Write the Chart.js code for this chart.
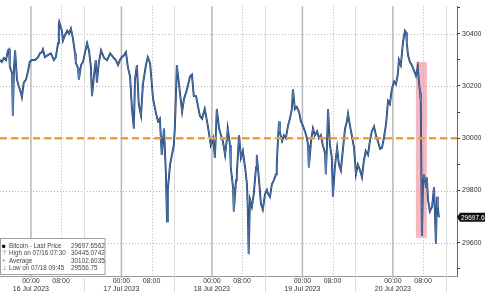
<!DOCTYPE html>
<html>
<head>
<meta charset="utf-8">
<script src="https://cdn.jsdelivr.net/npm/chart.js@4.4.1/dist/chart.umd.min.js"></script>
<style>
  html, body { margin: 0; padding: 0; background: #fff; }
  #wrap { width: 485px; height: 292px; position: relative; }
</style>
</head>
<body>
<div id="wrap"><canvas id="btcChart"></canvas></div>
<script>
// Hours since 16 Jul 2023 00:00
const hours = [
  -8.2, -7.7, -7.2, -6.6, -6.1, -5.8, -5.6, -5.0, -4.8, -4.5, -4.2, -3.7, -3.2, -2.7, -2.4, -1.9, -1.3, -0.8, -0.3,
  0.3, 1.1, 1.9, 2.4, 2.9, 3.2, 3.7, 4.5, 5.3, 6.1, 6.6, 7.2, 7.4, 7.5, 8.2, 8.5, 9.0, 9.6, 10.1, 10.6, 11.1, 11.7,
  11.9, 12.5, 12.7, 13.3, 13.8, 14.3, 14.9, 15.4, 15.9, 16.2, 16.7, 17.2, 17.5, 18.0, 18.6, 19.4, 20.2, 21.0, 21.8,
  22.5, 23.1, 23.6, 24.1, 24.7, 25.2, 25.7, 26.3, 26.8, 27.3, 27.6, 28.1, 28.6, 29.2, 29.7, 30.5, 31.0, 31.6, 32.4,
  33.2, 33.7, 34.2, 34.7, 35.3, 35.8, 36.1, 36.3, 36.9, 37.4, 37.9, 38.2, 38.7, 39.5, 40.1, 40.6, 41.4, 42.2, 42.7,
  43.2, 43.8, 44.3, 44.8, 45.4, 46.1, 46.9, 47.7, 48.3, 48.8, 49.3, 49.9, 50.4, 50.9, 51.5, 52.0, 52.2, 52.8, 53.0,
  53.6, 53.8, 54.4, 54.6, 55.2, 55.7, 56.2, 56.8, 57.3, 57.5, 57.75, 58.1, 58.6, 59.1, 59.7, 59.9, 60.5, 61.0, 61.5,
  62.1, 62.6, 62.9, 63.4, 63.9, 64.4, 65.0, 65.2, 65.5, 65.8, 66.0, 66.6, 67.1, 67.6, 68.2, 68.7, 69.2, 69.5, 70.0,
  70.5, 71.1, 71.6, 72.1, 72.7, 73.2, 73.5, 73.7, 74.3, 74.8, 75.3, 75.9, 76.4, 76.9, 77.4, 78.0, 78.2, 78.5, 78.8,
  79.3, 79.8, 80.1, 80.6, 81.2, 81.7, 82.2, 82.7, 83.3, 83.8, 84.1, 84.6, 85.1, 85.7, 86.2, 86.7, 87.3, 87.8, 88.3,
  88.8, 89.4, 89.9, 90.4, 91.0, 91.5, 92.0, 92.6, 93.1, 93.6, 94.2, 94.7, 95.2, 95.7, 96.3, 96.8, 97.3, 97.6, 98.1,
  98.7, 99.2, 99.5, 99.7, 100.0, 100.5, 101.0, 101.6, 102.1, 102.6, 102.9, 103.2, 103.4, 103.7, 104.0, 104.2, 104.8,
  105.0, 105.3, 105.8, 106.4, 106.9, 107.1, 107.4, 107.7, 107.9, 108.2
];
const prices = [
  30299, 30292, 30307, 30299, 30336, 30340, 30273, 30250, 30086, 30262, 30336, 30224, 30198, 30176, 30157, 30213, 30224, 30254, 30292,
  30299, 30299, 30310, 30325, 30329, 30340, 30310, 30318, 30325, 30299, 30310, 30363, 30437, 30445.07, 30411, 30374, 30393, 30411, 30400, 30419, 30385, 30325,
  30288, 30269, 30224, 30280, 30292, 30325, 30363, 30336, 30273, 30161, 30236, 30299, 30213, 30288, 30336, 30307, 30299, 30325, 30310,
  30299, 30280, 30299, 30310, 30318, 30329, 30273, 30236, 30112, 30037, 30224, 30280, 30131, 30086, 30206, 30280, 30310, 30288, 30150,
  30093, 30064, 30075, 29936, 30037, 29862, 29682, 29802, 29899, 29936, 29974, 30049, 30280, 30176, 30101, 30150, 30187, 30236, 30243,
  30161, 30161, 30123, 30086, 30075, 30112, 30049, 29974, 30000, 29925, 30112, 30037, 30011, 29989, 29936, 30000, 30037, 29974, 29888,
  29813, 29720, 29839, 29862, 30011, 29925, 29951, 29888, 29824, 29738, 29556.75, 29765, 29738, 29787, 29888, 29936, 29839, 29750, 29727,
  29787, 29802, 29787, 29776, 29824, 29839, 29862, 29899, 29989, 30064, 30026, 29989, 30011, 30000, 30049, 30075, 30112, 30187, 30112,
  30120, 30101, 30064, 30049, 30026, 30000, 29974, 29888, 29989, 30037, 30011, 30026, 30000, 30011, 29974, 29944, 29862, 29963, 30112,
  29974, 29925, 29776, 29888, 29963, 29899, 29877, 29951, 30037, 30064, 30093, 30049, 30011, 29963, 29862, 29899, 29877, 29851, 29914,
  29951, 29936, 29989, 30026, 30045, 30011, 29989, 29959, 29963, 30000, 30056, 30142, 30131, 30187, 30217, 30206, 30243, 30299, 30280,
  30370, 30411, 30404, 30363, 30318, 30292, 30280, 30258, 30239, 30273, 30217, 30176, 30138, 29626, 29839, 29862, 29813,
  29851, 29765, 29720, 29738, 29813, 29738, 29596, 29776, 29738, 29697.6562
];

const yTickValues = [29500, 29600, 29700, 29800, 29900, 30000, 30100, 30200, 30300, 30400, 30500];
const yGridValues = [29600, 29800, 30000, 30200, 30400];
const xTickHours = [0, 8, 24, 32, 48, 56, 72, 80, 96, 104];
const midnightHours = [0, 24, 48, 72, 96];
const morningHours = [8, 32, 56, 80, 104];
const separatorHours = [14, 38, 62, 86, 110];
const dayLabels = ['16 Jul 2023', '17 Jul 2023', '18 Jul 2023', '19 Jul 2023', '20 Jul 2023'];
const refLevel = 30000;
const boxHours = [102.1, 105.0];
const boxPrices = [29619, 30292];
const xMin = -8.2, xMax = 113;
const yMin = 29473, yMax = 30505;

const legendRows = [
  ['\u25A0', 'Bitcoin - Last Price', '29697.6562'],
  ['\u22A4', 'High on 07/16 07:30', '30445.0742'],
  ['+', 'Average', '30102.6035'],
  ['\u22A5', 'Low on 07/18 09:45', '29556.75']
];

const FONT = '"Liberation Sans", Arial, sans-serif';

// gridlines + highlighted drop window, behind the series
const backdrop = {
  id: 'backdrop',
  beforeDatasetsDraw(chart) {
    const { ctx, chartArea: a, scales: { x, y } } = chart;
    ctx.save();
    // pink highlight
    const bx0 = x.getPixelForValue(boxHours[0]), bx1 = x.getPixelForValue(boxHours[1]);
    const by0 = y.getPixelForValue(boxPrices[1]), by1 = y.getPixelForValue(boxPrices[0]);
    ctx.fillStyle = 'rgba(241, 160, 170, 0.75)';
    ctx.fillRect(bx0, by0, bx1 - bx0, by1 - by0);

    ctx.lineWidth = 1;
    // horizontal dotted
    ctx.strokeStyle = '#b4b4b4';
    ctx.setLineDash([1, 2]);
    yGridValues.forEach(v => {
      const py = Math.round(y.getPixelForValue(v)) + 0.5;
      ctx.beginPath(); ctx.moveTo(a.left, py); ctx.lineTo(a.right, py); ctx.stroke();
    });
    // 08:00 dotted
    morningHours.forEach(h => {
      const px = Math.round(x.getPixelForValue(h)) + 0.5;
      ctx.beginPath(); ctx.moveTo(px, a.top); ctx.lineTo(px, a.bottom); ctx.stroke();
    });
    ctx.setLineDash([]);
    // day separators, light solid, running into the label band
    ctx.strokeStyle = '#dcdcdc';
    separatorHours.forEach(h => {
      const px = Math.round(x.getPixelForValue(h)) + 0.5;
      if (px > a.right) return;
      ctx.beginPath(); ctx.moveTo(px, a.top); ctx.lineTo(px, chart.height); ctx.stroke();
    });
    // midnight lines
    ctx.strokeStyle = '#b8b8b8';
    ctx.lineWidth = 1.5;
    midnightHours.forEach(h => {
      const px = x.getPixelForValue(h);
      ctx.beginPath(); ctx.moveTo(px, a.top); ctx.lineTo(px, a.bottom + 2); ctx.stroke();
    });
    ctx.restore();
  }
};

// legend box + last price tag
const overlay = {
  id: 'overlay',
  afterDraw(chart) {
    const { ctx, chartArea: a, scales: { y } } = chart;
    ctx.save();
    // legend box
    ctx.fillStyle = '#fff';
    ctx.fillRect(0, 238, 105, 36);
    ctx.strokeStyle = '#a0a0a0';
    ctx.lineWidth = 1;
    ctx.strokeRect(0.5, 238.5, 104.5, 36);
    ctx.textBaseline = 'middle';
    legendRows.forEach((r, i) => {
      const ly = 246 + i * 7.4;
      ctx.font = '6.3px ' + FONT;
      ctx.fillStyle = i === 0 ? '#000' : '#777';
      ctx.fillText(r[0], 2, ly);
      ctx.fillStyle = '#444';
      ctx.fillText(r[1], 9, ly);
      ctx.font = '6.4px ' + FONT;
      ctx.fillText(r[2], 71, ly);
    });
    // last price tag
    const last = prices[prices.length - 1];
    const py = y.getPixelForValue(last);
    ctx.fillStyle = '#111';
    ctx.beginPath();
    ctx.moveTo(a.right, py);
    ctx.lineTo(a.right + 3, py - 4.5);
    ctx.lineTo(chart.width, py - 4.5);
    ctx.lineTo(chart.width, py + 4.5);
    ctx.lineTo(a.right + 3, py + 4.5);
    ctx.closePath();
    ctx.fill();
    ctx.fillStyle = '#fff';
    ctx.font = '6.5px ' + FONT;
    ctx.fillText(last.toFixed(2), a.right + 4, py + 0.5);
    ctx.restore();
  }
};

const series = hours.map((h, i) => ({ x: h, y: prices[i] }));

const ctx = document.getElementById('btcChart').getContext('2d');
new Chart(ctx, {
  type: 'line',
  data: {
    datasets: [
      {
        label: 'Bitcoin - Last Price',
        data: series,
        borderColor: '#1d3a66',
        borderWidth: 1.9,
        pointRadius: 0,
        tension: 0,
        order: 3
      },
      {
        label: 'Bitcoin highlight',
        data: series,
        borderColor: '#5f8fca',
        borderWidth: 0.7,
        pointRadius: 0,
        tension: 0,
        order: 2
      },
      {
        label: '30000',
        data: [{ x: xMin, y: refLevel }, { x: xMax, y: refLevel }],
        borderColor: '#f0a033',
        borderWidth: 2.5,
        borderDash: [7, 4],
        pointRadius: 0,
        order: 1
      }
    ]
  },
  options: {
    responsive: true,
    maintainAspectRatio: false,
    animation: false,
    layout: { padding: 0 },
    plugins: { legend: { display: false }, tooltip: { enabled: false } },
    scales: {
      x: {
        type: 'linear',
        min: xMin,
        max: xMax,
        afterBuildTicks: s => { s.ticks = xTickHours.map(v => ({ value: v })); },
        afterFit: s => { s.height = 16; },
        grid: { drawOnChartArea: false, drawTicks: false },
        border: { color: '#999', width: 1 },
        ticks: {
          autoSkip: false,
          maxRotation: 0,
          padding: 1,
          color: '#333',
          font: { size: 7, family: FONT, lineHeight: 1.15 },
          callback: v => {
            if (v % 24 === 0) return ['00:00', dayLabels[v / 24]];
            return '08:00';
          }
        }
      },
      y: {
        position: 'right',
        min: yMin,
        max: yMax,
        afterBuildTicks: s => { s.ticks = yTickValues.map(v => ({ value: v })); },
        afterFit: s => { s.width = 28; },
        grid: { drawOnChartArea: false, drawTicks: true, tickLength: 3, tickColor: '#333' },
        border: { color: '#666', width: 1 },
        ticks: {
          padding: 2,
          color: '#333',
          font: { size: 7, family: FONT },
          callback: v => (v % 200 === 0 ? String(v) : '')
        }
      }
    }
  },
  plugins: [backdrop, overlay]
});
</script>
</body>
</html>
